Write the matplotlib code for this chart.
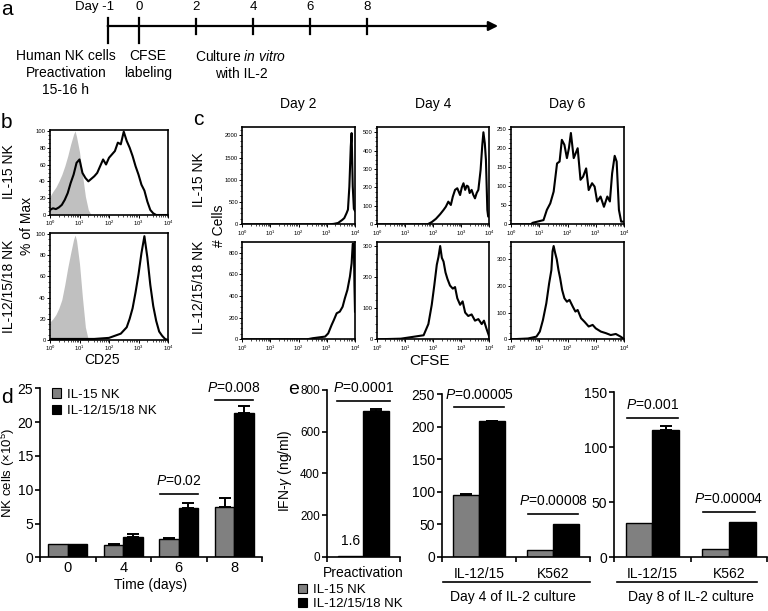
import numpy as np
import matplotlib.pyplot as plt
from matplotlib.lines import Line2D
from matplotlib.patches import Patch
from matplotlib.ticker import LogLocator, NullFormatter, AutoMinorLocator

plt.rcParams["font.family"] = ["Liberation Sans", "DejaVu Sans"]
plt.rcParams["mathtext.fontset"] = "custom"
plt.rcParams["mathtext.rm"] = "Liberation Sans"
plt.rcParams["mathtext.it"] = "Liberation Sans:italic"
plt.rcParams["font.size"] = 10

W, H = 768, 611
GRAY = "#808080"
ISO = "#c0c0c0"

# ---------------- data ----------------
groups = ["IL-15 NK", "IL-12/15/18 NK"]

# a: timeline
timeline_days = [-1, 0, 2, 4, 6, 8]
timeline_labels = ["Day -1", "0", "2", "4", "6", "8"]
timeline_notes = ["Human NK cells\nPreactivation\n15-16 h",
                  "CFSE\nlabeling",
                  "Culture $\\mathit{in\\ vitro}$\nwith IL-2"]

# b: CD25, x in log10 units, y in % of max
cd25_grid = [0.0, 0.1, 0.2, 0.3, 0.4, 0.5, 0.6, 0.7, 0.8, 0.9,
             1.0, 1.1, 1.2, 1.3, 1.4, 1.5, 1.6, 1.7, 1.8, 1.9,
             2.0, 2.1, 2.2, 2.3, 2.4, 2.5, 2.6, 2.7, 2.8, 2.9,
             3.0, 3.1, 3.2, 3.3, 3.4, 3.5, 3.6, 3.7, 3.8, 3.9, 4.0]
b_top_cd25 = [6, 8, 7, 9, 12, 18, 26, 38, 48, 62,
              66, 50, 44, 40, 43, 46, 50, 58, 66, 60,
              68, 72, 76, 86, 84, 99, 88, 80, 70, 58,
              48, 36, 29, 16, 6, 2, 0, 0, 0, 0, 0]
b_top_iso_x = [0.0, 0.1, 0.2, 0.3, 0.4, 0.5, 0.6, 0.7, 0.8, 0.85, 0.9, 1.0, 1.1, 1.2, 1.3, 1.4, 4.0]
b_top_iso_y = [22, 28, 33, 40, 48, 58, 70, 84, 96, 100, 93, 75, 48, 22, 6, 0, 0]
b_bot_iso_x = [0.0, 0.1, 0.2, 0.3, 0.4, 0.5, 0.6, 0.7, 0.8, 0.85, 0.9, 1.0, 1.1, 1.2, 1.3, 4.0]
b_bot_iso_y = [17, 20, 24, 30, 38, 52, 68, 82, 95, 99, 94, 72, 40, 12, 0, 0]
b_bot_cd25_x = [0, 1.5, 2.0, 2.2, 2.4, 2.6, 2.7, 2.8, 2.9, 3.0, 3.1, 3.2, 3.3, 3.4, 3.5, 3.6, 3.7, 3.8, 3.9, 4.0]
b_bot_cd25_y = [1, 1, 2, 4, 6, 12, 20, 30, 45, 62, 82, 98, 78, 52, 32, 18, 8, 4, 1, 0]

# c: CFSE, x in log10 units, y in # cells
c_top_d2_x = [0, 3.1, 3.25, 3.4, 3.55, 3.62, 3.7, 3.75, 3.8, 3.85, 3.88, 3.92, 3.96, 4.0]
c_top_d2_y = [0, 0, 10, 30, 100, 140, 250, 330, 850, 1750, 2050, 850, 350, 300]
c_top_d4_x = [0, 1.8, 1.95, 2.1, 2.25, 2.37, 2.45, 2.54, 2.63, 2.7, 2.78, 2.86, 2.96, 3.02,
              3.08, 3.14, 3.2, 3.25, 3.3, 3.37, 3.43, 3.49, 3.55, 3.61, 3.69, 3.75, 3.79,
              3.84, 3.88, 3.93, 3.96, 4.0]
c_top_d4_y = [0, 0, 12, 30, 55, 78, 95, 123, 105, 150, 187, 196, 159, 200,
              223, 187, 210, 205, 170, 187, 160, 141, 170, 187, 295, 430, 500,
              440, 350, 78, 42, 42]
c_top_d6_x = [0, 0.7, 0.77, 1.15, 1.27, 1.39, 1.51, 1.63, 1.72, 1.8, 1.89, 1.98, 2.05, 2.12,
              2.22, 2.29, 2.36, 2.46, 2.55, 2.66, 2.75, 2.87, 2.96, 3.05, 3.17, 3.29, 3.41,
              3.5, 3.58, 3.67, 3.74, 3.82, 3.9, 4.0]
c_top_d6_y = [0, 0, 4, 11, 38, 55, 86, 160, 165, 222, 209, 174, 200, 240,
              174, 187, 200, 117, 125, 147, 90, 108, 99, 60, 73, 46, 73,
              60, 134, 180, 165, 38, 7, 7]
c_bot_d2_x = [0, 2.3, 2.5, 2.94, 3.05, 3.17, 3.25, 3.35, 3.46, 3.56, 3.64, 3.73, 3.82,
              3.88, 3.92, 3.96, 3.98, 4.0]
c_bot_d2_y = [0, 0, 10, 25, 55, 132, 178, 240, 255, 300, 378, 455, 578,
              700, 880, 880, 500, 255]
c_bot_d4_x = [0, 0.85, 1.66, 1.83, 1.95, 2.04, 2.13, 2.19, 2.25, 2.31, 2.37, 2.44, 2.51, 2.6,
              2.7, 2.78, 2.86, 2.96, 3.05, 3.14, 3.25, 3.37, 3.49, 3.61, 3.73, 3.81, 3.9, 4.0]
c_bot_d4_y = [0, 2, 13, 49, 111, 173, 240, 265, 300, 262, 250, 215, 194, 173,
              163, 168, 132, 111, 122, 86, 75, 80, 60, 65, 49, 60, 34, 8]
c_bot_d6_x = [0, 0.6, 0.9, 1.02, 1.13, 1.25, 1.35, 1.43, 1.47, 1.51, 1.56, 1.62, 1.68, 1.74,
              1.81, 1.89, 1.98, 2.07, 2.19, 2.28, 2.36, 2.48, 2.6, 2.75, 2.89, 3.0, 3.18,
              3.36, 3.53, 3.71, 3.88, 4.0]
c_bot_d6_y = [0, 3, 10, 29, 72, 135, 210, 260, 330, 350, 325, 300, 260, 229,
              185, 154, 141, 148, 122, 104, 110, 79, 66, 48, 54, 41, 29,
              23, 16, 20, 10, 1]
c_days = ["Day 2", "Day 4", "Day 6"]

# d: NK cell counts (x10^5)
d_days = ["0", "4", "6", "8"]
d_il15 = [2.0, 1.85, 2.75, 7.4]
d_il15_err = [0, 0.15, 0.05, 1.3]
d_il12 = [2.0, 2.95, 7.25, 21.4]
d_il12_err = [0, 0.5, 0.8, 1.0]
d_p_idx = [2, 3]
d_p = ["0.02", "0.008"]

# e: IFN-gamma (ng/ml)
e_pre_cat = ["Preactivation"]
e_pre_il15 = [1.6]
e_pre_il12 = [700]
e_pre_il12_err = [10]
e_pre_p = "0.0001"
e_cats = ["IL-12/15", "K562"]
e_d4_il15 = [95, 11]
e_d4_il15_err = [1, 0]
e_d4_il12 = [208, 50]
e_d4_il12_err = [1, 0]
e_d4_p = ["0.00005", "0.00008"]
e_d8_il15 = [31, 7.5]
e_d8_il12 = [116, 32.5]
e_d8_il12_err = [3, 0]
e_d8_p = ["0.001", "0.00004"]


# ---------------- helpers ----------------
fig = plt.figure(figsize=(W / 100, H / 100), dpi=100)


def box(l, t, r, b):
    return [l / W, 1 - b / H, (r - l) / W, (b - t) / H]


def ftext(x, y, s, **kw):
    return fig.text(x / W, 1 - y / H, s, **kw)


def fline(x1, x2, y):
    fig.add_artist(Line2D([x1 / W, x2 / W], [1 - y / H, 1 - y / H], color="black", lw=1.2))


def flow_axes(rect, ymax, yticks):
    ax = fig.add_axes(box(*rect))
    ax.set_xscale("log")
    ax.set_xlim(1, 1e4)
    ax.set_ylim(0, ymax)
    ax.set_xticks([1, 10, 100, 1000, 10000])
    ax.set_xticklabels([r"$10^{%d}$" % i for i in range(5)])
    ax.xaxis.set_minor_locator(LogLocator(base=10, subs=np.arange(2, 10)))
    ax.xaxis.set_minor_formatter(NullFormatter())
    ax.set_yticks(yticks)
    ax.yaxis.set_minor_locator(AutoMinorLocator(4))
    ax.tick_params(labelsize=4.2, length=2, width=0.7, pad=1)
    ax.tick_params(which="minor", length=1.2, width=0.5)
    for s in ax.spines.values():
        s.set_linewidth(1.2)
    return ax


def curve(ax, x, y, fill=False):
    xs = 10 ** np.asarray(x, dtype=float)
    if fill:
        ax.fill_between(xs, y, color=ISO, lw=0)
    else:
        ax.plot(xs, y, color="black", lw=1.5)


def bar_axes(rect, ymax, yticks, ncat, labelsize=10):
    ax = fig.add_axes(box(*rect))
    for s in ("top", "right"):
        ax.spines[s].set_visible(False)
    for s in ("left", "bottom"):
        ax.spines[s].set_linewidth(1.2)
    ax.set_xlim(-0.5, ncat - 0.5)
    ax.set_ylim(0, ymax)
    ax.set_yticks(yticks)
    ax.set_xticks(np.arange(ncat + 1) - 0.5)
    ax.set_xticklabels([])
    ax.tick_params(direction="out", length=3.5, width=1.2, labelsize=labelsize, pad=1.5)
    return ax


def draw_bars(ax, a, a_err, b, b_err):
    x = np.arange(len(a))
    w = 0.35
    for off, vals, errs, col in ((-w / 2, a, a_err, GRAY), (w / 2, b, b_err, "black")):
        ax.bar(x + off, vals, w, color=col, edgecolor="black", linewidth=1.0, zorder=2)
        for xi, v, e in zip(x + off, vals, errs):
            if e > 0:
                ax.errorbar(xi, v, yerr=[[0], [e]], color="black", lw=1.4,
                            capsize=4, capthick=1.4, zorder=3)


def sig(ax, xc, h, p, half=0.34):
    ax.plot([xc - half, xc + half], [h, h], color="black", lw=1.2, clip_on=False)
    ax.annotate(f"$\\mathit{{P}}$={p}", (xc, h), xytext=(0, 9), textcoords="offset points",
                ha="center", va="center", annotation_clip=False)


def legend(ax, **kw):
    handles = [Patch(facecolor=GRAY, edgecolor="black", lw=0.8),
               Patch(facecolor="black", edgecolor="black", lw=0.8)]
    ax.legend(handles, groups, frameon=False, handlelength=0.7, handleheight=0.7,
              handletextpad=0.4, borderpad=0, borderaxespad=0, fontsize=9.5, **kw)


# ---------------- a: timeline ----------------
ax = fig.add_axes(box(95, 0, 505, 50))
ax.set_xlim(-1.544, 12.842)
ax.set_ylim(50, 0)
ax.axis("off")
tick_x = [d if d >= 0 else -1.1 for d in timeline_days]
ax.annotate("", xy=(12.6, 26), xytext=(tick_x[0], 26),
            arrowprops=dict(arrowstyle="-|>", color="black", lw=1.6,
                            mutation_scale=14, shrinkA=0, shrinkB=0))
for i, (x, lab) in enumerate(zip(tick_x, timeline_labels)):
    if i < 2:
        ax.plot([x, x], [18, 43], color="black", lw=1.6)
    else:
        ax.plot([x, x], [19, 34], color="black", lw=1.6)
    if i == 0:
        ax.annotate(lab, (x, 7), xytext=(4.5, 0), textcoords="offset points",
                    ha="right", va="center", fontsize=9.5)
    else:
        ax.text(x, 7, lab, ha="center", va="center", fontsize=9.5)
for xc, note in zip([66, 148, 241], timeline_notes):
    ftext(xc, 49, note, ha="center", va="top", linespacing=1.25)

# ---------------- b: CD25 ----------------
ax = flow_axes((50, 130, 168, 215), 101, [0, 20, 40, 60, 80, 100])
curve(ax, b_top_iso_x, b_top_iso_y, fill=True)
curve(ax, cd25_grid, b_top_cd25)
ax = flow_axes((50, 233, 168, 340), 101, [0, 20, 40, 60, 80, 100])
curve(ax, b_bot_iso_x, b_bot_iso_y, fill=True)
curve(ax, b_bot_cd25_x, b_bot_cd25_y)
ftext(9, 172, groups[0], rotation=90, ha="center", va="center")
ftext(9, 286, groups[1], rotation=90, ha="center", va="center")
ftext(27, 226, "% of Max", rotation=90, ha="center", va="center")
ftext(102, 360, "CD25", ha="center", va="center")

# ---------------- c: CFSE ----------------
xl = [(242.3, 355), (377, 489.3), (511, 624)]
top_cfg = [(2180, [0, 500, 1000, 1500, 2000], c_top_d2_x, c_top_d2_y),
           (527, [0, 100, 200, 300, 400, 500], c_top_d4_x, c_top_d4_y),
           (255, [0, 50, 100, 150, 200, 250], c_top_d6_x, c_top_d6_y)]
bot_cfg = [(897, [0, 200, 400, 600, 800], c_bot_d2_x, c_bot_d2_y),
           (313, [0, 100, 200, 300], c_bot_d4_x, c_bot_d4_y),
           (365, [0, 100, 200, 300], c_bot_d6_x, c_bot_d6_y)]
for (l, r), day, (ym, yt, cx, cy) in zip(xl, c_days, top_cfg):
    ax = flow_axes((l, 127.3, r, 224.3), ym, yt)
    curve(ax, cx, cy)
    ax.annotate(day, (0.5, 1), xycoords="axes fraction", xytext=(0, 17),
                textcoords="offset points", ha="center", va="center")
for (l, r), (ym, yt, cx, cy) in zip(xl, bot_cfg):
    ax = flow_axes((l, 242, r, 339.3), ym, yt)
    curve(ax, cx, cy)
ftext(199, 180, groups[0], rotation=90, ha="center", va="center")
ftext(199, 287, groups[1], rotation=90, ha="center", va="center")
ftext(219, 226, "# Cells", rotation=90, ha="center", va="center")
ftext(430, 361, "CFSE", ha="center", va="center", fontsize=11)

# ---------------- d: NK cell numbers ----------------
ax = bar_axes((40, 388.3, 262, 557.3), 25, [0, 5, 10, 15, 20, 25], len(d_days))
draw_bars(ax, d_il15, d_il15_err, d_il12, d_il12_err)
ax.set_xticks(range(len(d_days)), d_days, minor=True)
ax.tick_params(axis="x", which="minor", length=0, pad=3, labelsize=10.5)
for i, p, h in zip(d_p_idx, d_p, [9.4, 23.2]):
    sig(ax, i, h, p)
legend(ax, loc="upper left", bbox_to_anchor=(0.054, 1.0), labelspacing=0.35)
ftext(151, 585, "Time (days)", ha="center", va="center")
ftext(8, 473, "NK cells (\u00d710$^{5}$)", rotation=90, ha="center", va="center",
      fontsize=9.5)

# ---------------- e: IFN-gamma ----------------
ax = bar_axes((326.7, 390, 400, 556.7), 800, [0, 200, 400, 600, 800], 1, labelsize=8.5)
draw_bars(ax, e_pre_il15, [0], e_pre_il12, e_pre_il12_err)
ax.set_xticks([0], e_pre_cat, minor=True)
ax.tick_params(axis="x", which="minor", length=0, pad=7, labelsize=10)
sig(ax, 0, 749, e_pre_p, half=0.36)
ax.annotate(f"{e_pre_il15[0]}", (-0.175, e_pre_il15[0]), xytext=(0, 11),
            textcoords="offset points", ha="center", va="center")
legend(ax, loc="upper left", bbox_to_anchor=(298 / W, 1 - 584 / H),
       bbox_transform=fig.transFigure, labelspacing=0.1)

ax = bar_axes((442, 394, 590, 557), 250, [0, 50, 100, 150, 200, 250], 2)
draw_bars(ax, e_d4_il15, e_d4_il15_err, e_d4_il12, e_d4_il12_err)
ax.set_xticks([0, 1], e_cats, minor=True)
ax.tick_params(axis="x", which="minor", length=0, pad=7)
for i, p, h in zip([0, 1], e_d4_p, [230, 66]):
    sig(ax, i, h, p)

ax = bar_axes((614.3, 392.3, 767, 557.3), 150, [0, 50, 100, 150], 2)
draw_bars(ax, e_d8_il15, [0, 0], e_d8_il12, e_d8_il12_err)
ax.set_xticks([0, 1], e_cats, minor=True)
ax.tick_params(axis="x", which="minor", length=0, pad=7)
for i, p, h in zip([0, 1], e_d8_p, [127, 41.5]):
    sig(ax, i, h, p)

fline(443, 590, 582)
fline(617, 757, 582)
ftext(513, 597, "Day 4 of IL-2 culture", ha="center", va="center")
ftext(691, 597, "Day 8 of IL-2 culture", ha="center", va="center")
ftext(285, 471, "IFN-$\\mathit{\\gamma}$ (ng/ml)", rotation=90, ha="center", va="center")

# panel letters
for lab, x, y, fs in [("a", 1, 15, 15), ("b", 1, 128, 15), ("c", 193, 125, 15),
                      ("d", 1, 403, 15), ("e", 288, 394, 14)]:
    ftext(x, y, lab, fontsize=fs, ha="left", va="baseline")

fig.savefig("out.png", dpi=100)
